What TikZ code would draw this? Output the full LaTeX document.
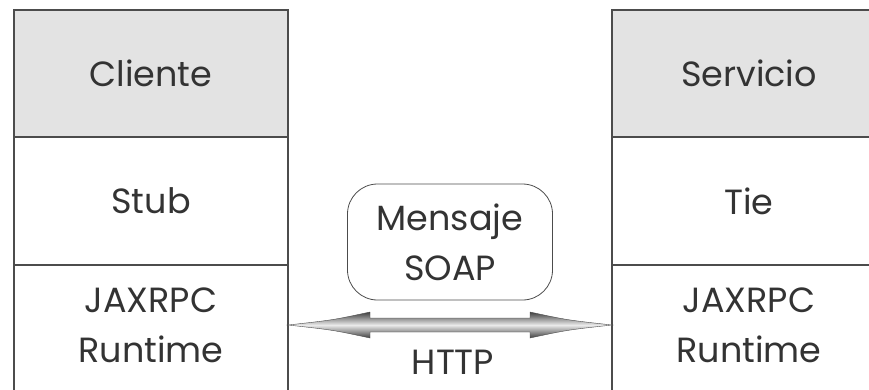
\documentclass[tikz,border=0pt]{standalone}
\usepackage{fontspec}
\setmainfont{Poppins}
\usetikzlibrary{calc,positioning}

\begin{document}
\begin{tikzpicture}[x=1pt,y=-1pt]
        \tikzstyle{lnode} = [draw=black!70, line width=1.6pt, rectangle, outer sep=0pt, inner sep=0pt, minimum width=274pt, align=center, text=black!80, font=\fontsize{35}{50}\selectfont]
        \tikzstyle{hnode} = [lnode, fill=black!11, minimum height=127pt]
        \tikzstyle{mnode} = [lnode, minimum height=128pt]
        \tikzstyle{bnode} = [lnode, draw=none, minimum height=120pt]
        \tikzstyle{msgnode} = [thick, draw=black!70, rectangle, rounded corners=30pt, minimum width=205pt, minimum height=116pt, align=center, text=black!80, font=\fontsize{35}{50}\selectfont]

        \useasboundingbox (0,0) rectangle (869,389);
        \clip (0,0) rectangle (869,389);

        % cliente
        \node[hnode, anchor=north west] (cli) at (14,10) {Cliente};
        \node[mnode, below=0pt of cli] (stub) {Stub};
        \node[bnode, below=0pt of stub] (rtc) {JAXRPC\\Runtime};
        \draw[draw=black!70, line width=1.6pt] ([yshift=-10pt]rtc.south west) -- (rtc.north west);
        \draw[draw=black!70, line width=1.6pt] ([yshift=-10pt]rtc.south east) -- (rtc.north east);

        % servicio
        \node[hnode, anchor=north west] (srv) at (612,10) {Servicio};
        \node[mnode, below=0pt of srv] (tie) {Tie};
        \node[bnode, below=0pt of tie] (rts) {JAXRPC\\Runtime};
        \draw[draw=black!70, line width=1.6pt] ([yshift=-10pt]rts.south west) -- (rts.north west);

        \node[msgnode] (msg) at (450,242) {Mensaje\\SOAP};

        % HTTP
        \draw[draw=black!70, top color=black!75, bottom color=black!75, middle color=black!8]
          (rtc.east) .. controls ($(rtc.east)+(45,-5)$) .. ($(rtc.east)+(82,-13)$)
          -- ($(rtc.east)+(82,-7)$) -- ($(rts.west)+(-82,-7)$) -- ($(rts.west)+(-82,-13)$)
          .. controls ($(rts.west)+(-45,-5)$) .. (rts.west)
          .. controls ($(rts.west)+(-45,5)$) .. ($(rts.west)+(-82,13)$)
          -- ($(rts.west)+(-82,7)$) -- ($(rtc.east)+(82,7)$) -- ($(rtc.east)+(82,13)$)
          .. controls ($(rtc.east)+(45,5)$) .. (rtc.east) -- cycle;
        \node[text=black!80, font=\fontsize{35}{50}\selectfont] (http) at (453,362) {HTTP};

\end{tikzpicture}
\end{document}
